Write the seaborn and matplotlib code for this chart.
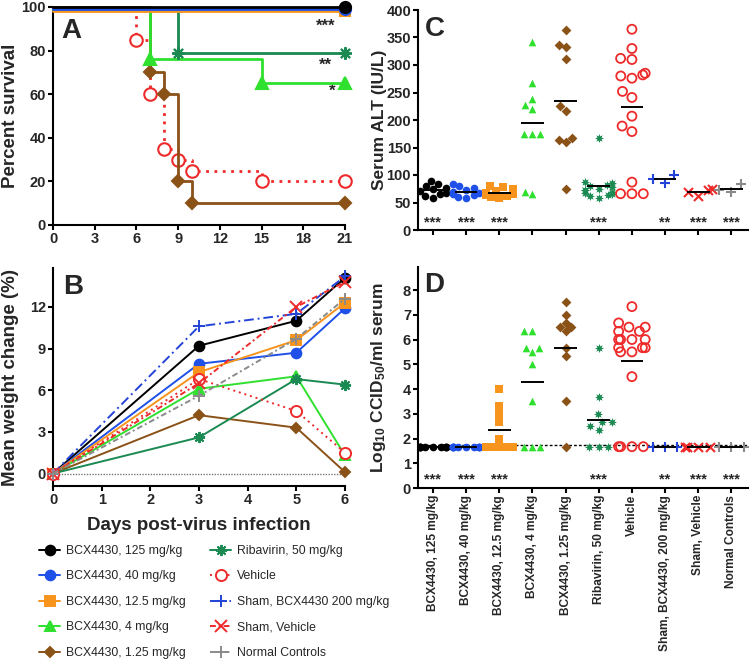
import warnings
warnings.filterwarnings("ignore")
import numpy as np
import pandas as pd
import matplotlib
matplotlib.use("Agg")
import matplotlib.pyplot as plt
from matplotlib.transforms import offset_copy
import seaborn as sns

sns.set_theme(style="ticks")
plt.rcParams['font.family'] = ['Liberation Sans', 'DejaVu Sans']
plt.rcParams['mathtext.fontset'] = 'custom'
plt.rcParams['mathtext.rm'] = 'Liberation Sans:bold'
plt.rcParams['mathtext.bf'] = 'Liberation Sans:bold'
plt.rcParams['mathtext.it'] = 'Liberation Sans:bold'
plt.rcParams['axes.linewidth'] = 1.5

# ---------------- data ----------------
groups = ["BCX4430, 125 mg/kg", "BCX4430, 40 mg/kg", "BCX4430, 12.5 mg/kg",
          "BCX4430, 4 mg/kg", "BCX4430, 1.25 mg/kg", "Ribavirin, 50 mg/kg",
          "Vehicle", "Sham, BCX4430, 200 mg/kg", "Sham, Vehicle", "Normal Controls"]
legend_labels = ["BCX4430, 125 mg/kg", "BCX4430, 40 mg/kg", "BCX4430, 12.5 mg/kg",
                 "BCX4430, 4 mg/kg", "BCX4430, 1.25 mg/kg", "Ribavirin, 50 mg/kg",
                 "Vehicle", "Sham, BCX4430 200 mg/kg", "Sham, Vehicle", "Normal Controls"]

# Panel A: survival (Kaplan-Meier)
surv_days_125 = [0, 21];   surv_125 = [100, 100]
surv_days_40 = [0, 21];    surv_40 = [100, 100]
surv_days_12_5 = [0, 21];  surv_12_5 = [100, 100]
surv_days_4 = [0, 7, 15, 21];            surv_4 = [100, 77.8, 66.7, 66.7]
surv_days_1_25 = [0, 7, 8, 9, 10, 21];   surv_1_25 = [100, 70, 60, 20, 10, 10]
surv_days_riba = [0, 9, 21];             surv_riba = [100, 80, 80]
surv_days_veh = [0, 6, 7, 8, 9, 10, 15, 21]; surv_veh = [100, 85, 60, 35, 30, 25, 20, 20]
surv_ticks_x = [0, 3, 6, 9, 12, 15, 18, 21]
surv_ticks_y = [0, 20, 40, 60, 80, 100]
surv_stars = ["***", "**", "*"]

# Panel B: weight change
weight_days = [0, 3, 5, 6]
wt_125 = [0, 9.2, 11.0, 14.1]
wt_40 = [0, 7.9, 8.7, 11.9]
wt_12_5 = [0, 7.3, 9.6, 12.3]
wt_4 = [0, 6.1, 7.0, 1.3]
wt_1_25 = [0, 4.2, 3.3, 0.1]
wt_riba = [0, 2.6, 6.8, 6.4]
wt_veh = [0, 6.8, 4.5, 1.5]
wt_sham_bcx = [0, 10.6, 11.5, 14.2]
wt_sham_veh = [0, 6.5, 12.0, 13.8]
wt_normal = [0, 5.6, 9.7, 12.6]
weight_ticks_y = [0, 3, 6, 9, 12]

# Panel C: serum ALT (IU/L)
alt_125 = [90, 84, 80, 77, 74, 71, 68, 65, 62, 58]
alt_40 = [84, 80, 77, 73, 70, 68, 66, 63, 60, 58]
alt_12_5 = [80, 78, 74, 71, 68, 66, 64, 62, 60, 58]
alt_4 = [342, 267, 238, 227, 220, 175, 175, 175, 70, 65]
alt_1_25 = [363, 337, 333, 311, 226, 217, 167, 163, 160, 74]
alt_riba = [168, 88, 85, 82, 80, 78, 75, 73, 72, 70, 68, 66, 64, 62, 58]
alt_veh = [365, 330, 312, 310, 285, 282, 280, 276, 252, 241, 207, 189, 179, 87, 66, 66, 66]
alt_sham_bcx = [100, 92, 86]
alt_sham_veh = [74, 72, 70, 62]
alt_normal = [84, 72, 70]
alt_stars = ["***", "***", "***", "", "", "***", "", "**", "***", "***"]

# Panel D: log10 CCID50/ml serum
vir_125 = [1.67] * 10
vir_40 = [1.67] * 10
vir_12_5 = [4.0, 3.33, 3.0, 2.67, 2.0, 1.67, 1.67, 1.67, 1.67, 1.67]
vir_4 = [6.33, 6.33, 5.67, 5.67, 5.5, 5.0, 3.5, 1.67, 1.67, 1.67]
vir_1_25 = [7.5, 7.0, 6.67, 6.5, 6.5, 6.33, 5.67, 5.33, 3.5, 1.67]
vir_riba = [5.67, 3.67, 3.0, 2.67, 2.67, 2.5, 2.33, 1.67, 1.67, 1.67]
vir_veh = [7.33, 6.67, 6.5, 6.5, 6.33, 6.33, 6.0, 6.0, 6.0, 6.0, 5.67, 5.67, 5.67,
           5.5, 5.5, 4.5, 1.67, 1.67, 1.67, 1.67]
vir_sham_bcx = [1.67] * 3
vir_sham_veh = [1.67] * 4
vir_normal = [1.67] * 3
vir_lod = 1.75
vir_stars = ["***", "***", "***", "", "", "***", "", "**", "***", "***"]

# ---------------- styles ----------------
BLACK = "#000000"; BLUE = "#1f50e8"; ORANGE = "#f7941d"; LGREEN = "#2fe02f"
BROWN = "#8b5218"; DGREEN = "#1a8a52"; RED = "#ee2a2a"; SBLUE = "#2444d8"; GRAY = "#8a8a8a"
colors = [BLACK, BLUE, ORANGE, LGREEN, BROWN, DGREEN, RED, SBLUE, RED, GRAY]
markers = ["o", "o", "s", "^", "D", (8, 2, 0), "o", "+", "x", "+"]
msizes = [7, 7, 6.5, 7, 5, 8, 8, 9, 8, 9]
lstyles = ["-", "-", "-", "-", "-", "-", (0, (1, 2)), (0, (5, 2, 1, 2)), (0, (3, 1.5, 1, 1.5)), (0, (3, 1.5, 1, 1.5))]
open_m = [False, False, False, False, False, False, True, False, False, False]

W, H = 750, 662
fig = plt.figure(figsize=(W / 100, H / 100), dpi=100)

def ax_px(l, t, r, b):
    return fig.add_axes([l / W, (H - b) / H, (r - l) / W, (b - t) / H])

axA = ax_px(53, 7, 345, 225)
axB = ax_px(53, 268, 345, 486)
axC = ax_px(418, 10, 748, 230)
axD = ax_px(418, 267, 748, 488)

def style_axis(ax):
    sns.despine(ax=ax)
    ax.tick_params(axis="both", width=1.5, length=3.5, direction="out", color="black", pad=1.5)
    for lab in ax.get_xticklabels() + ax.get_yticklabels():
        lab.set_fontweight("bold"); lab.set_fontsize(10.5)
    for s in ax.spines.values():
        s.set_color("black"); s.set_linewidth(1.5)

# ---------------- Panel A ----------------
surv_series = [(surv_days_125, surv_125, 0), (surv_days_40, surv_40, 1), (surv_days_12_5, surv_12_5, 2),
               (surv_days_4, surv_4, 3), (surv_days_1_25, surv_1_25, 4), (surv_days_riba, surv_riba, 5),
               (surv_days_veh, surv_veh, 6)]
offsets_pt = {0: 0.3, 1: -1.2, 2: -3.0, 3: -2.5, 4: 0, 5: -1.6, 6: 0}
draw_order = [6, 4, 3, 5, 2, 1, 0]
for idx in draw_order:
    d, v, gi = [s for s in surv_series if s[2] == idx][0]
    df = pd.DataFrame({"day": d, "pct": v})
    tr = offset_copy(axA.transData, fig=fig, x=0, y=offsets_pt[gi], units="points")
    sns.lineplot(data=df, x="day", y="pct", ax=axA, color=colors[gi], lw=2.0,
                 drawstyle="steps-post", marker=markers[gi], markersize=msizes[gi] + 1,
                 markeredgecolor=colors[gi], markeredgewidth=1.5,
                 markerfacecolor=("white" if open_m[gi] else colors[gi]),
                 linestyle=(lstyles[gi] if gi == 6 else "-"),
                 markevery=slice(1, None), errorbar=None, legend=False,
                 transform=tr, clip_on=False, zorder=3 + draw_order.index(idx))
axA.set_xlim(0, 21); axA.set_ylim(0, 100)
axA.set_xticks(surv_ticks_x); axA.set_yticks(surv_ticks_y)
axA.set_xlabel(""); axA.set_ylabel("Percent survival", fontsize=13.5, fontweight="bold")
axA.yaxis.set_label_coords(-0.118, 0.5)
style_axis(axA)
axA.text(0.03, 0.89, "A", transform=axA.transAxes, fontsize=20, fontweight="bold", ha="left", va="center")
axA.text(19.6, 91, surv_stars[0], fontsize=12, fontweight="bold", ha="center", va="center")
axA.text(19.6, 73.5, surv_stars[1], fontsize=12, fontweight="bold", ha="center", va="center")
axA.text(20.1, 61.5, surv_stars[2], fontsize=12, fontweight="bold", ha="center", va="center")

# ---------------- Panel B ----------------
wt_series = [wt_125, wt_40, wt_12_5, wt_4, wt_1_25, wt_riba, wt_veh, wt_sham_bcx, wt_sham_veh, wt_normal]
axB.axhline(0, color="#777777", lw=1.0, ls=(0, (1, 1)), zorder=1)
for gi, vals in enumerate(wt_series):
    df = pd.DataFrame({"day": weight_days, "wt": vals})
    sns.lineplot(data=df, x="day", y="wt", ax=axB, color=colors[gi], lw=1.4,
                 linestyle=lstyles[gi], marker=markers[gi], markersize=msizes[gi],
                 markeredgecolor=colors[gi], markeredgewidth=1.4,
                 markerfacecolor=("white" if open_m[gi] else colors[gi]),
                 errorbar=None, legend=False, label=legend_labels[gi], clip_on=False,
                 zorder=3)
axB.set_xlim(0, 6); axB.set_ylim(-0.9, 14.8)
axB.set_xticks(range(0, 7)); axB.set_yticks(weight_ticks_y)
axB.set_xlabel("Days post-virus infection", fontsize=13.5, fontweight="bold", labelpad=7)
axB.set_ylabel("Mean weight change (%)", fontsize=13.5, fontweight="bold")
axB.yaxis.set_label_coords(-0.118, 0.5)
style_axis(axB)
axB.text(0.035, 0.913, "B", transform=axB.transAxes, fontsize=20, fontweight="bold", ha="left", va="center")

handles, labels = axB.get_legend_handles_labels()
fig.legend(handles, labels, loc="upper left", bbox_to_anchor=(39 / W, (H - 545) / H), ncol=2,
           frameon=False, prop={"size": 8.8}, handlelength=1.75, handletextpad=0.45,
           labelspacing=1.1, columnspacing=2.0, borderaxespad=0, borderpad=0)

# ---------------- Panels C & D ----------------
alt_series = [alt_125, alt_40, alt_12_5, alt_4, alt_1_25, alt_riba, alt_veh, alt_sham_bcx, alt_sham_veh, alt_normal]
vir_series = [vir_125, vir_40, vir_12_5, vir_4, vir_1_25, vir_riba, vir_veh, vir_sham_bcx, vir_sham_veh, vir_normal]
sw_markers = ["o", "o", "s", "^", "D", (8, 1, 0), "o", "+", "x", "+"]
sw_sizes = [5.5, 5.5, 5.5, 5.5, 5, 6.5, 6.5, 7, 6.5, 7]

def swarm_panel(ax, series):
    for gi, vals in enumerate(series):
        df = pd.DataFrame({"group": [groups[gi]] * len(vals), "val": vals})
        n_before = len(ax.collections)
        filled = sw_markers[gi] not in ("+", "x")
        sns.swarmplot(data=df, x="group", y="val", order=groups, ax=ax, color=colors[gi],
                      marker=sw_markers[gi], size=sw_sizes[gi],
                      linewidth=(0 if filled else 1.5), zorder=3, warn_thresh=1.0)
        coll = ax.collections[n_before:]
        for c in coll:
            if open_m[gi]:
                c.set_facecolor("none"); c.set_edgecolor(colors[gi]); c.set_linewidth(1.3)
            elif not filled:
                c.set_edgecolor(colors[gi]); c.set_facecolor(colors[gi]); c.set_linewidth(1.5)
        m = float(np.mean(vals))
        ax.hlines(m, gi - 0.34, gi + 0.34, color="black", lw=1.4, zorder=4)
    ax.set_xlim(-0.45, 9.5)

swarm_panel(axC, alt_series)
axC.set_ylim(0, 400); axC.set_yticks(range(0, 401, 50))
axC.set_xticks(range(10)); axC.set_xticklabels([""] * 10)
axC.set_xlabel(""); axC.set_ylabel("Serum ALT (IU/L)", fontsize=12.5, fontweight="bold")
axC.yaxis.set_label_coords(-0.095, 0.5)
style_axis(axC)
for i, s in enumerate(alt_stars):
    axC.text(i, 14, s, fontsize=10.5, fontweight="bold", ha="center", va="center")
axC.text(0.02, 0.914, "C", transform=axC.transAxes, fontsize=20, fontweight="bold", ha="left", va="center")

swarm_panel(axD, vir_series)
axD.axhline(vir_lod, color="black", lw=1.0, ls=(0, (2, 1.5)), zorder=2)
axD.set_ylim(0, 8.93); axD.set_yticks(range(0, 9))
axD.set_xticks(range(10))
axD.set_xticklabels(groups, rotation=90, ha="center", va="top")
axD.set_xlabel("")
axD.set_ylabel(r"Log$_{10}$ CCID$_{50}$/ml serum", fontsize=12.5, fontweight="bold")
axD.yaxis.set_label_coords(-0.09, 0.5)
style_axis(axD)
for lab in axD.get_xticklabels():
    lab.set_fontsize(8.6)
for i, s in enumerate(vir_stars):
    axD.text(i, 0.33, s, fontsize=10.5, fontweight="bold", ha="center", va="center")
axD.text(0.02, 0.918, "D", transform=axD.transAxes, fontsize=20, fontweight="bold", ha="left", va="center")

fig.savefig("out.png", dpi=100)
